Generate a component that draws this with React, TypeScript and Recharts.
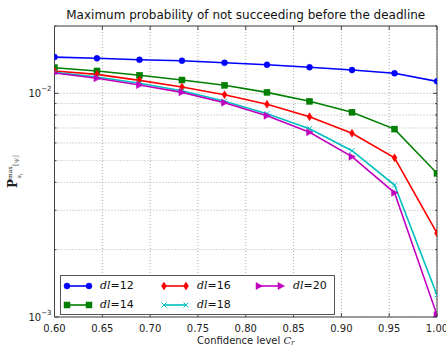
import React from 'react';
import { LineChart, Line, XAxis, YAxis, CartesianGrid, Legend, Label } from 'recharts';

const xs = [0.6, 0.6444, 0.6889, 0.7333, 0.7778, 0.8222, 0.8667, 0.9111, 0.9556, 1.0];
const dl12 = [0.01452, 0.01434, 0.01413, 0.01399, 0.0137, 0.01342, 0.01308, 0.01271, 0.01229, 0.01131];
const dl14 = [0.01302, 0.01259, 0.01204, 0.01147, 0.01086, 0.0101, 0.00921, 0.00823, 0.00692, 0.00439];
const dl16 = [0.01259, 0.01216, 0.01143, 0.01067, 0.00986, 0.00893, 0.00786, 0.00663, 0.00515, 0.00237];
const dl18 = [0.01241, 0.01183, 0.01109, 0.01027, 0.00921, 0.00811, 0.00695, 0.00554, 0.00389, 0.001254];
const dl20 = [0.01232, 0.01167, 0.01089, 0.0101, 0.00908, 0.00794, 0.0067, 0.00521, 0.00359, 0.00102];

const xTicks = [0.6, 0.65, 0.7, 0.75, 0.8, 0.85, 0.9, 0.95, 1.0];
const yTicks = [0.001, 0.002, 0.003, 0.004, 0.005, 0.006, 0.007, 0.008, 0.009, 0.01, 0.02];
const yMajor = [0.001, 0.01];
const yMajorLabels = ['−3', '−2'];

const seriesKeys = ['dl12', 'dl14', 'dl16', 'dl18', 'dl20'];
const seriesNames = ['12', '14', '16', '18', '20'];
const seriesColors = ['#0000ff', '#007f00', '#ff0000', '#00bfbf', '#bf00bf'];
const seriesMarkers = ['circle', 'square', 'diamond', 'x', 'triangle'];
const seriesValues = [dl12, dl14, dl16, dl18, dl20];

const data = xs.map((x, i) => {
  const row: any = { x };
  seriesKeys.forEach((k, j) => (row[k] = seriesValues[j][i]));
  return row;
});

const FONT = 'DejaVu Sans';
const FRAME = '#444';

function Marker({ type, cx, cy, color }: { type: string; cx: number; cy: number; color: string }) {
  if (type === 'circle') return <circle cx={cx} cy={cy} r={3} fill={color} stroke={color} strokeWidth={0.5} />;
  if (type === 'square') return <rect x={cx - 3} y={cy - 3} width={6} height={6} fill={color} stroke={color} strokeWidth={0.5} />;
  if (type === 'diamond')
    return (
      <polygon
        points={`${cx},${cy - 4} ${cx + 2.5},${cy} ${cx},${cy + 4} ${cx - 2.5},${cy}`}
        fill={color}
        stroke={color}
        strokeWidth={0.5}
      />
    );
  if (type === 'x')
    return (
      <g stroke={color} strokeWidth={1}>
        <line x1={cx - 2.5} y1={cy - 2.5} x2={cx + 2.5} y2={cy + 2.5} />
        <line x1={cx - 2.5} y1={cy + 2.5} x2={cx + 2.5} y2={cy - 2.5} />
      </g>
    );
  return (
    <polygon
      points={`${cx + 3.5},${cy} ${cx - 3},${cy - 3.5} ${cx - 3},${cy + 3.5}`}
      fill={color}
      stroke={color}
      strokeWidth={0.5}
    />
  );
}

const makeDot = (j: number) => (props: any) => {
  const { cx, cy, index } = props;
  if (cx == null || cy == null) return <g key={`d${j}-${index}`} />;
  return (
    <g key={`d${j}-${index}`}>
      <Marker type={seriesMarkers[j]} cx={cx} cy={cy} color={seriesColors[j]} />
    </g>
  );
};

const BottomTick = (props: any) => {
  const { x, y, payload } = props;
  return (
    <g>
      <line x1={x} y1={y} x2={x} y2={y - 4} stroke={FRAME} strokeWidth={1} />
      <text x={x} y={y + 14.5} textAnchor="middle" fontFamily={FONT} fontSize={10} fill="#222">
        {Number(payload.value).toFixed(2)}
      </text>
    </g>
  );
};

const TopTick = (props: any) => {
  const { x, y } = props;
  return <line x1={x} y1={y} x2={x} y2={y + 4} stroke={FRAME} strokeWidth={1} />;
};

const LeftTick = (props: any) => {
  const { x, y, payload } = props;
  const mi = yMajor.findIndex((v) => Math.abs(v - payload.value) < 1e-9);
  const len = mi >= 0 ? 4 : 2;
  return (
    <g>
      <line x1={x} y1={y} x2={x + len} y2={y} stroke={FRAME} strokeWidth={1} />
      {mi >= 0 && (
        <text x={x - 3} y={y + 4} textAnchor="end" fontFamily={FONT} fontSize={10} fill="#222">
          10
          <tspan dy={-6} fontSize={7}>
            {yMajorLabels[mi]}
          </tspan>
        </text>
      )}
    </g>
  );
};

const RightTick = (props: any) => {
  const { x, y, payload } = props;
  const mi = yMajor.findIndex((v) => Math.abs(v - payload.value) < 1e-9);
  const len = mi >= 0 ? 4 : 2;
  return <line x1={x} y1={y} x2={x - len} y2={y} stroke={FRAME} strokeWidth={1} />;
};

const TitleLabel = (props: any) => {
  const vb = props.viewBox || {};
  return (
    <text x={vb.x + vb.width / 2} y={vb.y - 6} textAnchor="middle" fontFamily={FONT} fontSize={12} fill="#111">
      Maximum probability of not succeeding before the deadline
    </text>
  );
};

const XTitle = (props: any) => {
  const vb = props.viewBox || {};
  return (
    <text x={vb.x + vb.width / 2} y={vb.y + 26.5} textAnchor="middle" fontFamily={FONT} fontSize={10} fill="#222">
      Confidence level{' '}
      <tspan fontFamily="DejaVu Serif" fontStyle="italic">
        C
      </tspan>
      <tspan fontFamily="DejaVu Serif" fontStyle="italic" fontSize={7} dy={1.5}>
        r
      </tspan>
    </text>
  );
};

const YTitle = (props: any) => {
  const vb = props.viewBox || {};
  const cy = vb.y + vb.height / 2;
  return (
    <text transform={`translate(17, ${cy}) rotate(-90)`} textAnchor="middle" fontFamily="DejaVu Serif" fill="#222">
      <tspan fontWeight="bold" fontSize={12}>
        P
      </tspan>
      <tspan fontSize={6} dy={-5}>
        max
      </tspan>
      <tspan fontSize={6} dx={-12} dy={9} fontStyle="italic">
        s
      </tspan>
      <tspan fontSize={4} dy={1.5} fontStyle="italic">
        i
      </tspan>
      <tspan fontSize={7} dx={8} dy={-5} fill="#666">
        [ψ]
      </tspan>
    </text>
  );
};

const legendCols = [
  { sx: 6, tx: 40 },
  { sx: 103, tx: 137 },
  { sx: 198, tx: 233 },
];
const legendRows = [11, 30];

const LegendBox = () => (
  <div
    style={{
      position: 'relative',
      width: 275,
      height: 40,
      background: '#fff',
      border: '1px solid #555',
      boxSizing: 'border-box',
    }}
  >
    {seriesNames.map((n, j) => {
      const col = legendCols[Math.floor(j / 2)];
      const row = legendRows[j % 2];
      return (
        <React.Fragment key={n}>
          <svg
            width={30}
            height={12}
            style={{ position: 'absolute', left: col.sx - 4, top: row - 6 - 1 }}
          >
            <line x1={4} y1={6} x2={26} y2={6} stroke={seriesColors[j]} strokeWidth={1.6} />
            <Marker type={seriesMarkers[j]} cx={4} cy={6} color={seriesColors[j]} />
            <Marker type={seriesMarkers[j]} cx={26} cy={6} color={seriesColors[j]} />
          </svg>
          <div
            style={{
              position: 'absolute',
              left: col.tx - 1,
              top: row - 8 - 1,
              fontFamily: FONT,
              fontSize: 11,
              lineHeight: '16px',
              color: '#111',
              whiteSpace: 'nowrap',
            }}
          >
            <span style={{ fontFamily: 'DejaVu Serif', fontStyle: 'italic' }}>dl</span>={n}
          </div>
        </React.Fragment>
      );
    })}
  </div>
);

export default function App() {
  return (
    <div style={{ position: 'absolute', left: 0, top: 0, width: 446, height: 346, background: '#fff' }}>
      <LineChart width={446} height={346} data={data} margin={{ top: 25, right: 8, bottom: 0, left: 0.5 }}>
        <CartesianGrid
          stroke="#999"
          strokeDasharray="1 2"
          strokeWidth={0.8}
          horizontalValues={yTicks}
          verticalValues={xTicks}
        />
        <XAxis
          dataKey="x"
          type="number"
          domain={[0.6, 1.0]}
          ticks={xTicks}
          allowDataOverflow
          height={29}
          tickSize={0}
          tickMargin={0}
          tickLine={false}
          axisLine={{ stroke: FRAME }}
          tick={<BottomTick />}
          interval={0}
        >
          <Label content={<XTitle />} position="bottom" />
        </XAxis>
        <XAxis
          xAxisId="t"
          orientation="top"
          dataKey="x"
          type="number"
          domain={[0.6, 1.0]}
          ticks={xTicks}
          allowDataOverflow
          height={1}
          tickSize={0}
          tickMargin={0}
          tickLine={false}
          axisLine={{ stroke: FRAME }}
          tick={<TopTick />}
          interval={0}
        >
          <Label content={<TitleLabel />} position="top" />
        </XAxis>
        <YAxis
          type="number"
          scale="log"
          domain={[0.001, 0.02]}
          ticks={yTicks}
          allowDataOverflow
          width={54}
          tickSize={0}
          tickMargin={0}
          tickLine={false}
          axisLine={{ stroke: FRAME }}
          tick={<LeftTick />}
          interval={0}
        >
          <Label content={<YTitle />} position="left" />
        </YAxis>
        <YAxis
          yAxisId="r"
          orientation="right"
          type="number"
          scale="log"
          domain={[0.001, 0.02]}
          ticks={yTicks}
          allowDataOverflow
          width={1}
          tickSize={0}
          tickMargin={0}
          tickLine={false}
          axisLine={{ stroke: FRAME }}
          tick={<RightTick />}
          interval={0}
        />
        {seriesKeys.map((k, j) => (
          <Line
            key={k}
            dataKey={k}
            name={`dl=${seriesNames[j]}`}
            stroke={seriesColors[j]}
            strokeWidth={1.6}
            dot={makeDot(j)}
            activeDot={false}
            isAnimationActive={false}
          />
        ))}
        <Line
          key="frame"
          xAxisId="t"
          yAxisId="r"
          dataKey="dl12"
          stroke="none"
          dot={false}
          activeDot={false}
          legendType="none"
          isAnimationActive={false}
        />
        <Legend
          verticalAlign="middle"
          align="center"
          layout="horizontal"
          content={<LegendBox />}
          wrapperStyle={{ position: 'absolute', left: 60, top: 275, width: 275, height: 40 }}
        />
      </LineChart>
    </div>
  );
}
